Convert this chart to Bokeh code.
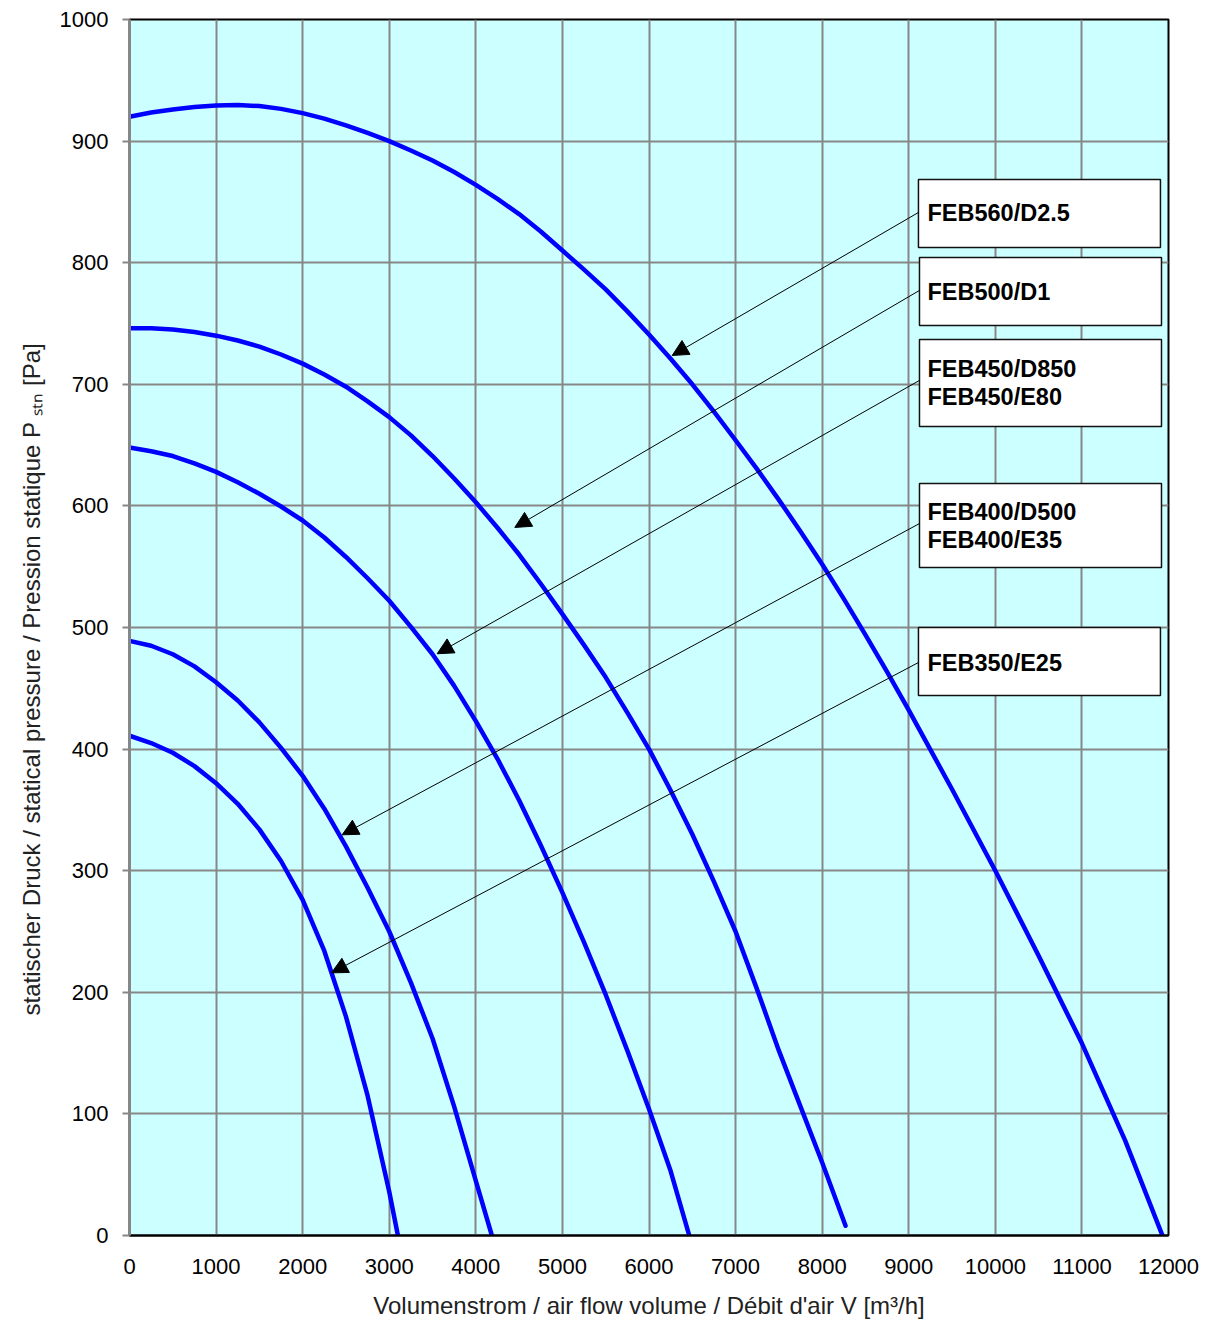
from bokeh.plotting import figure
from bokeh.models import Arrow, NormalHead, Title, FixedTicker
from bokeh.core.properties import value
from bokeh.embed import file_html
from bokeh.resources import INLINE

# ---- data ----
feb560_x = [0, 250, 500, 750, 1000, 1250, 1500, 1750, 2000, 2250, 2500, 2750, 3000, 3250, 3500,
            3750, 4000, 4250, 4500, 4750, 5000, 5250, 5500, 5750, 6000, 6250, 6500, 6750, 7000,
            7250, 7500, 7750, 8000, 8250, 8500, 8750, 9000, 9500, 10000, 10500, 11000, 11500, 11930]
feb560_y = [920, 923.5, 926, 928, 929.3, 929.6, 928.8, 926.5, 923, 918.5, 913, 906.8, 900, 892.3, 884,
            874.6, 864, 852.5, 840, 825.7, 810, 794.3, 778, 760, 741, 721, 700, 677.5, 654,
            630, 605, 579, 552, 523.5, 494, 463.5, 432, 367, 300, 230, 158, 78, 0]

feb500_x = [0, 250, 500, 750, 1000, 1250, 1500, 1750, 2000, 2250, 2500, 2750, 3000, 3250, 3500,
            3750, 4000, 4250, 4500, 4750, 5000, 5250, 5500, 5750, 6000, 6250, 6500, 6750, 7000,
            7250, 7500, 7750, 8000, 8270]
feb500_y = [746, 746, 745, 743, 740, 736, 731, 724.5, 717, 708, 698, 686, 673, 658, 641,
            622.5, 603, 582, 560, 536, 511, 485.5, 459, 430, 400, 366, 330, 291, 250,
            202, 152, 106, 60, 8]

feb450_x = [0, 250, 500, 750, 1000, 1250, 1500, 1750, 2000, 2250, 2500, 2750, 3000, 3250, 3500,
            3750, 4000, 4250, 4500, 4750, 5000, 5250, 5500, 5750, 6000, 6250, 6465]
feb450_y = [648, 645, 641, 635, 628, 619.5, 610, 599.5, 588, 574, 558, 540.5, 522, 500.5, 478,
            452, 423, 392, 358, 321, 282, 241, 198, 152, 104, 53, 0]

feb400_x = [0, 250, 500, 750, 1000, 1250, 1500, 1750, 2000, 2250, 2500, 2750, 3000, 3250, 3500,
            3750, 4000, 4185]
feb400_y = [489, 485, 478, 468, 455, 440, 422, 401, 378, 351, 320, 286, 250, 208, 162,
            106, 45, 0]

feb350_x = [0, 250, 500, 750, 1000, 1250, 1500, 1750, 2000, 2250, 2500, 2750, 3000, 3100]
feb350_y = [411, 405, 397, 386, 372, 355, 334, 308, 276, 234, 180, 115, 36, 0]

label_texts = [["FEB560/D2.5"], ["FEB500/D1"], ["FEB450/D850", "FEB450/E80"],
               ["FEB400/D500", "FEB400/E35"], ["FEB350/E25"]]

x_ticks = list(range(0, 12001, 1000))
y_ticks = list(range(0, 1001, 100))

x_title = "Volumenstrom / air flow volume / Débit d'air V [m³/h]"
y_title = "statischer Druck / statical pressure / Pression statique P ₛₜₙ [Pa]"

# ---- layout of annotations (box extents, text rows, arrow tails/heads) ----
boxes = [  # left, right, bottom, top
    (9112, 11907, 812.5, 868.4),
    (9124, 11919, 748.4, 804.3),
    (9124, 11919, 665.3, 736.9),
    (9124, 11919, 549.4, 618.4),
    (9112, 11907, 444.1, 500.0),
]
text_rows = [[840.5], [775.5], [712.2, 689.2], [594.6, 571.6], [471.2]]
text_x = 9216
arrows = [  # tail (x, y), head (x, y)
    ((9112, 841.3), (6268, 723.7)),
    ((9124, 777.2), (4450, 582.3)),
    ((9124, 703.2), (3553, 478.4)),
    ((9124, 585.5), (2456, 329.5)),
    ((9112, 471.2), (2333, 216.0)),
]

FONT = "Liberation Sans"
GRID = "#878787"

p = figure(width=1203, height=1321, x_range=(0, 12000), y_range=(0, 1000),
           output_backend="svg", toolbar_location=None,
           min_border_left=129, min_border_right=35, min_border_top=19, min_border_bottom=86)
p.background_fill_color = "#CCFFFF"
p.border_fill_color = "white"
p.outline_line_color = "black"
p.outline_line_width = 2

p.xaxis.ticker = FixedTicker(ticks=x_ticks)
p.yaxis.ticker = FixedTicker(ticks=y_ticks)
p.xgrid.ticker = FixedTicker(ticks=x_ticks)
p.ygrid.ticker = FixedTicker(ticks=y_ticks)
for g in (p.xgrid, p.ygrid):
    g.grid_line_color = GRID
    g.grid_line_width = 2

for ax in (p.xaxis, p.yaxis):
    ax.major_label_text_font = FONT
    ax.major_label_text_font_size = "22px"
    ax.major_label_text_color = "black"
    ax.minor_tick_line_color = None
    ax.major_tick_in = 0

p.xaxis.axis_line_color = "black"
p.xaxis.axis_line_width = 2
p.xaxis.major_tick_out = 0
p.xaxis.major_label_standoff = 23
p.xaxis.axis_label = x_title
p.xaxis.axis_label_text_font = FONT
p.xaxis.axis_label_text_font_size = "24px"
p.xaxis.axis_label_text_font_style = "normal"
p.xaxis.axis_label_standoff = 15
p.xaxis.axis_label_text_color = "#222222"

p.yaxis.axis_line_color = GRID
p.yaxis.axis_line_width = 3
p.yaxis.major_tick_line_color = GRID
p.yaxis.major_tick_line_width = 2
p.yaxis.major_tick_out = 7
p.yaxis.major_label_standoff = 14

for xs, ys in [(feb560_x, feb560_y), (feb500_x, feb500_y), (feb450_x, feb450_y),
               (feb400_x, feb400_y), (feb350_x, feb350_y)]:
    p.line(xs, ys, line_color="#0000FF", line_width=4.5, line_cap="round", line_join="round")

# label boxes
p.quad(left=[b[0] for b in boxes], right=[b[1] for b in boxes],
       bottom=[b[2] for b in boxes], top=[b[3] for b in boxes],
       fill_color="white", line_color="#111111", line_width=1.5)

tx, ty, tt = [], [], []
for rows, texts in zip(text_rows, label_texts):
    for y, t in zip(rows, texts):
        tx.append(text_x); ty.append(y); tt.append(t)
p.text(x=tx, y=ty, text=tt, text_font=value(FONT), text_font_style="bold",
       text_font_size="23.5px", text_baseline="middle", text_align="left", text_color="black")

for (t, h) in arrows:
    p.add_layout(Arrow(x_start=t[0], y_start=t[1], x_end=h[0], y_end=h[1],
                       line_color="black", line_width=1,
                       end=NormalHead(size=16, fill_color="black", line_color="black", line_width=1)))

p.add_layout(Title(text=y_title, align="left", offset=220, standoff=20, vertical_align="top",
                   text_font=FONT, text_font_size="24px", text_font_style="normal",
                   text_color="#222222"), "left")

open("out.html", "w").write(file_html(p, INLINE))
